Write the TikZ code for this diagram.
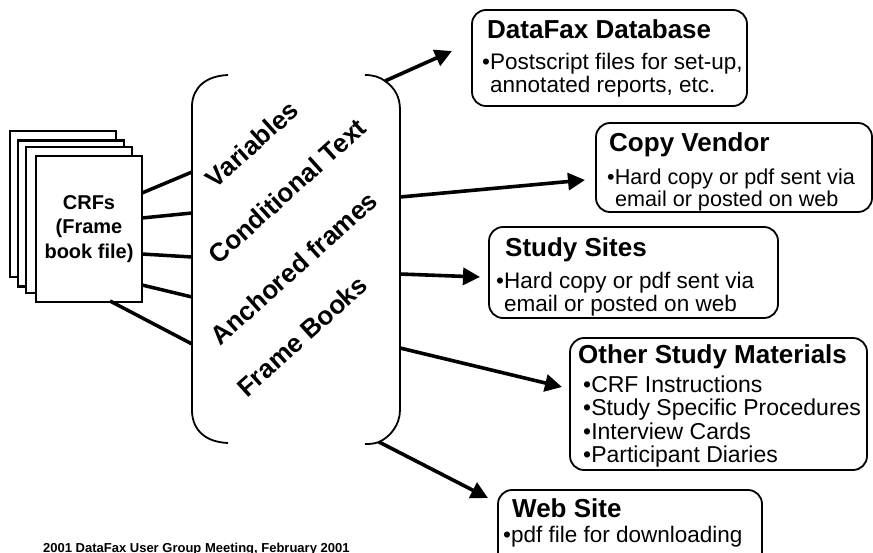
\documentclass[tikz,border=0pt]{standalone}
\usepackage{fontspec}
\setmainfont{Liberation Sans}
\usetikzlibrary{arrows.meta}
\begin{document}
\begin{tikzpicture}[x=1pt,y=-1pt,
  page/.style={draw,fill=white,line width=2.2pt,minimum width=106pt,minimum height=146pt,inner sep=0pt},
  outbox/.style={draw,line width=1.8pt,rounded corners=14pt,inner sep=0pt},
  bracket/.style={line width=1.8pt},
  feed/.style={line width=3.5pt},
  outarrow/.style={line width=3.6pt,-{Triangle[length=17pt,width=17pt]}},
  title/.style={anchor=base west,inner sep=0pt,font=\fontsize{26}{28}\selectfont\bfseries},
  body/.style={anchor=base west,inner sep=0pt,font=\fontsize{22.5}{26}\selectfont},
  tag/.style={rotate=42,inner sep=0pt,font=\fontsize{26}{28}\selectfont\bfseries},
]
\useasboundingbox (0,0) rectangle (873,552);

% stack of pages
\node[page] (pg1) at (63,204) {};
\node[page] (pg2) at (71,213.5) {};
\node[page] (pg3) at (79,220) {};
\node[page,align=center,font=\fontsize{20}{24.5}\selectfont\bfseries] (crf) at (89,229) {CRFs\\(Frame\\book file)};

% brackets
\draw[bracket] (228,75) .. controls (205,76) and (193,88) .. (192,105) -- (192,412) .. controls (193,430) and (205,442) .. (228,443);
\draw[bracket] (365,75) .. controls (373,75) and (380,77) .. (385,81) .. controls (395,88) and (400,97) .. (400,110) -- (400,410) .. controls (400,425) and (390,437) .. (379,442) .. controls (374,444) and (369,444) .. (365,444);

% rotated labels
\node[tag] (v1) at (252,144) {Variables};
\node[tag] (v2) at (287,191) {Conditional Text};
\node[tag] (v3) at (294,268) {Anchored frames};
\node[tag] (v4) at (302,336) {Frame Books};

% feed coordinates
\coordinate (p1) at (142,193); \coordinate (b1) at (192,172);
\coordinate (p2) at (142,218); \coordinate (b2) at (192,213);
\coordinate (p3) at (142,254); \coordinate (b3) at (192,257);
\coordinate (p4) at (142,285); \coordinate (b4) at (192,297);
\coordinate (p5) at (110,301); \coordinate (b5) at (192,344);
\draw[feed] (p1) -- (b1);
\draw[feed] (p2) -- (b2);
\draw[feed] (p3) -- (b3);
\draw[feed] (p4) -- (b4);
\draw[feed] (p5) -- (b5);

% output boxes
\node[outbox,minimum width=275pt,minimum height=96pt] (dfx) at (609.5,58) {};
\node[outbox,minimum width=276pt,minimum height=89pt] (cv) at (734,167.5) {};
\node[outbox,minimum width=289pt,minimum height=91pt] (ss) at (633.5,272.5) {};
\node[outbox,minimum width=297pt,minimum height=132pt] (osm) at (718.5,404) {};
\node[outbox,minimum width=264pt,minimum height=90pt] (ws) at (630,535) {};

% box texts
\node[title] (dfxT) at (487,38) {DataFax Database};
\node[body] (dfx1) at (482,69) {•Postscript files for set-up,};
\node[body] (dfx2) at (490,92) {annotated reports, etc.};

\node[title] (cvT) at (609,151) {Copy Vendor};
\node[body,font=\fontsize{21.6}{24}\selectfont] (cv1) at (607,184) {•Hard copy or pdf sent via};
\node[body,font=\fontsize{21.6}{24}\selectfont] (cv2) at (615,206) {email or posted on web};

\node[title] (ssT) at (505,256) {Study Sites};
\node[body] (ss1) at (496,288) {•Hard copy or pdf sent via};
\node[body] (ss2) at (504,311) {email or posted on web};

\node[title] (osmT) at (578,363) {Other Study Materials};
\node[body,font=\fontsize{23}{26}\selectfont] (osm1) at (583,392) {•CRF Instructions};
\node[body,font=\fontsize{23}{26}\selectfont] (osm2) at (583,415.5) {•Study Specific Procedures};
\node[body,font=\fontsize{23}{26}\selectfont] (osm3) at (583,439) {•Interview Cards};
\node[body,font=\fontsize{23}{26}\selectfont] (osm4) at (583,462.5) {•Participant Diaries};

\node[title] (wsT) at (512,517) {Web Site};
\node[body] (ws1) at (503,542) {•pdf file for downloading};

% arrows
\coordinate (r1) at (385,81);  \coordinate (t1) at (452,51);
\coordinate (r2) at (400,197); \coordinate (t2) at (585,180);
\coordinate (r3) at (400,274); \coordinate (t3) at (480,277);
\coordinate (r4) at (400,348); \coordinate (t4) at (562,387);
\coordinate (r5) at (379,442); \coordinate (t5) at (488,498);
\draw[outarrow] (r1) -- (t1);
\draw[outarrow] (r2) -- (t2);
\draw[outarrow] (r3) -- (t3);
\draw[outarrow] (r4) -- (t4);
\draw[outarrow] (r5) -- (t5);

% footer
\node[anchor=base west,inner sep=0pt,font=\fontsize{13}{15}\selectfont\bfseries] (foot) at (43,552) {2001 DataFax User Group Meeting, February 2001};
\end{tikzpicture}
\end{document}
